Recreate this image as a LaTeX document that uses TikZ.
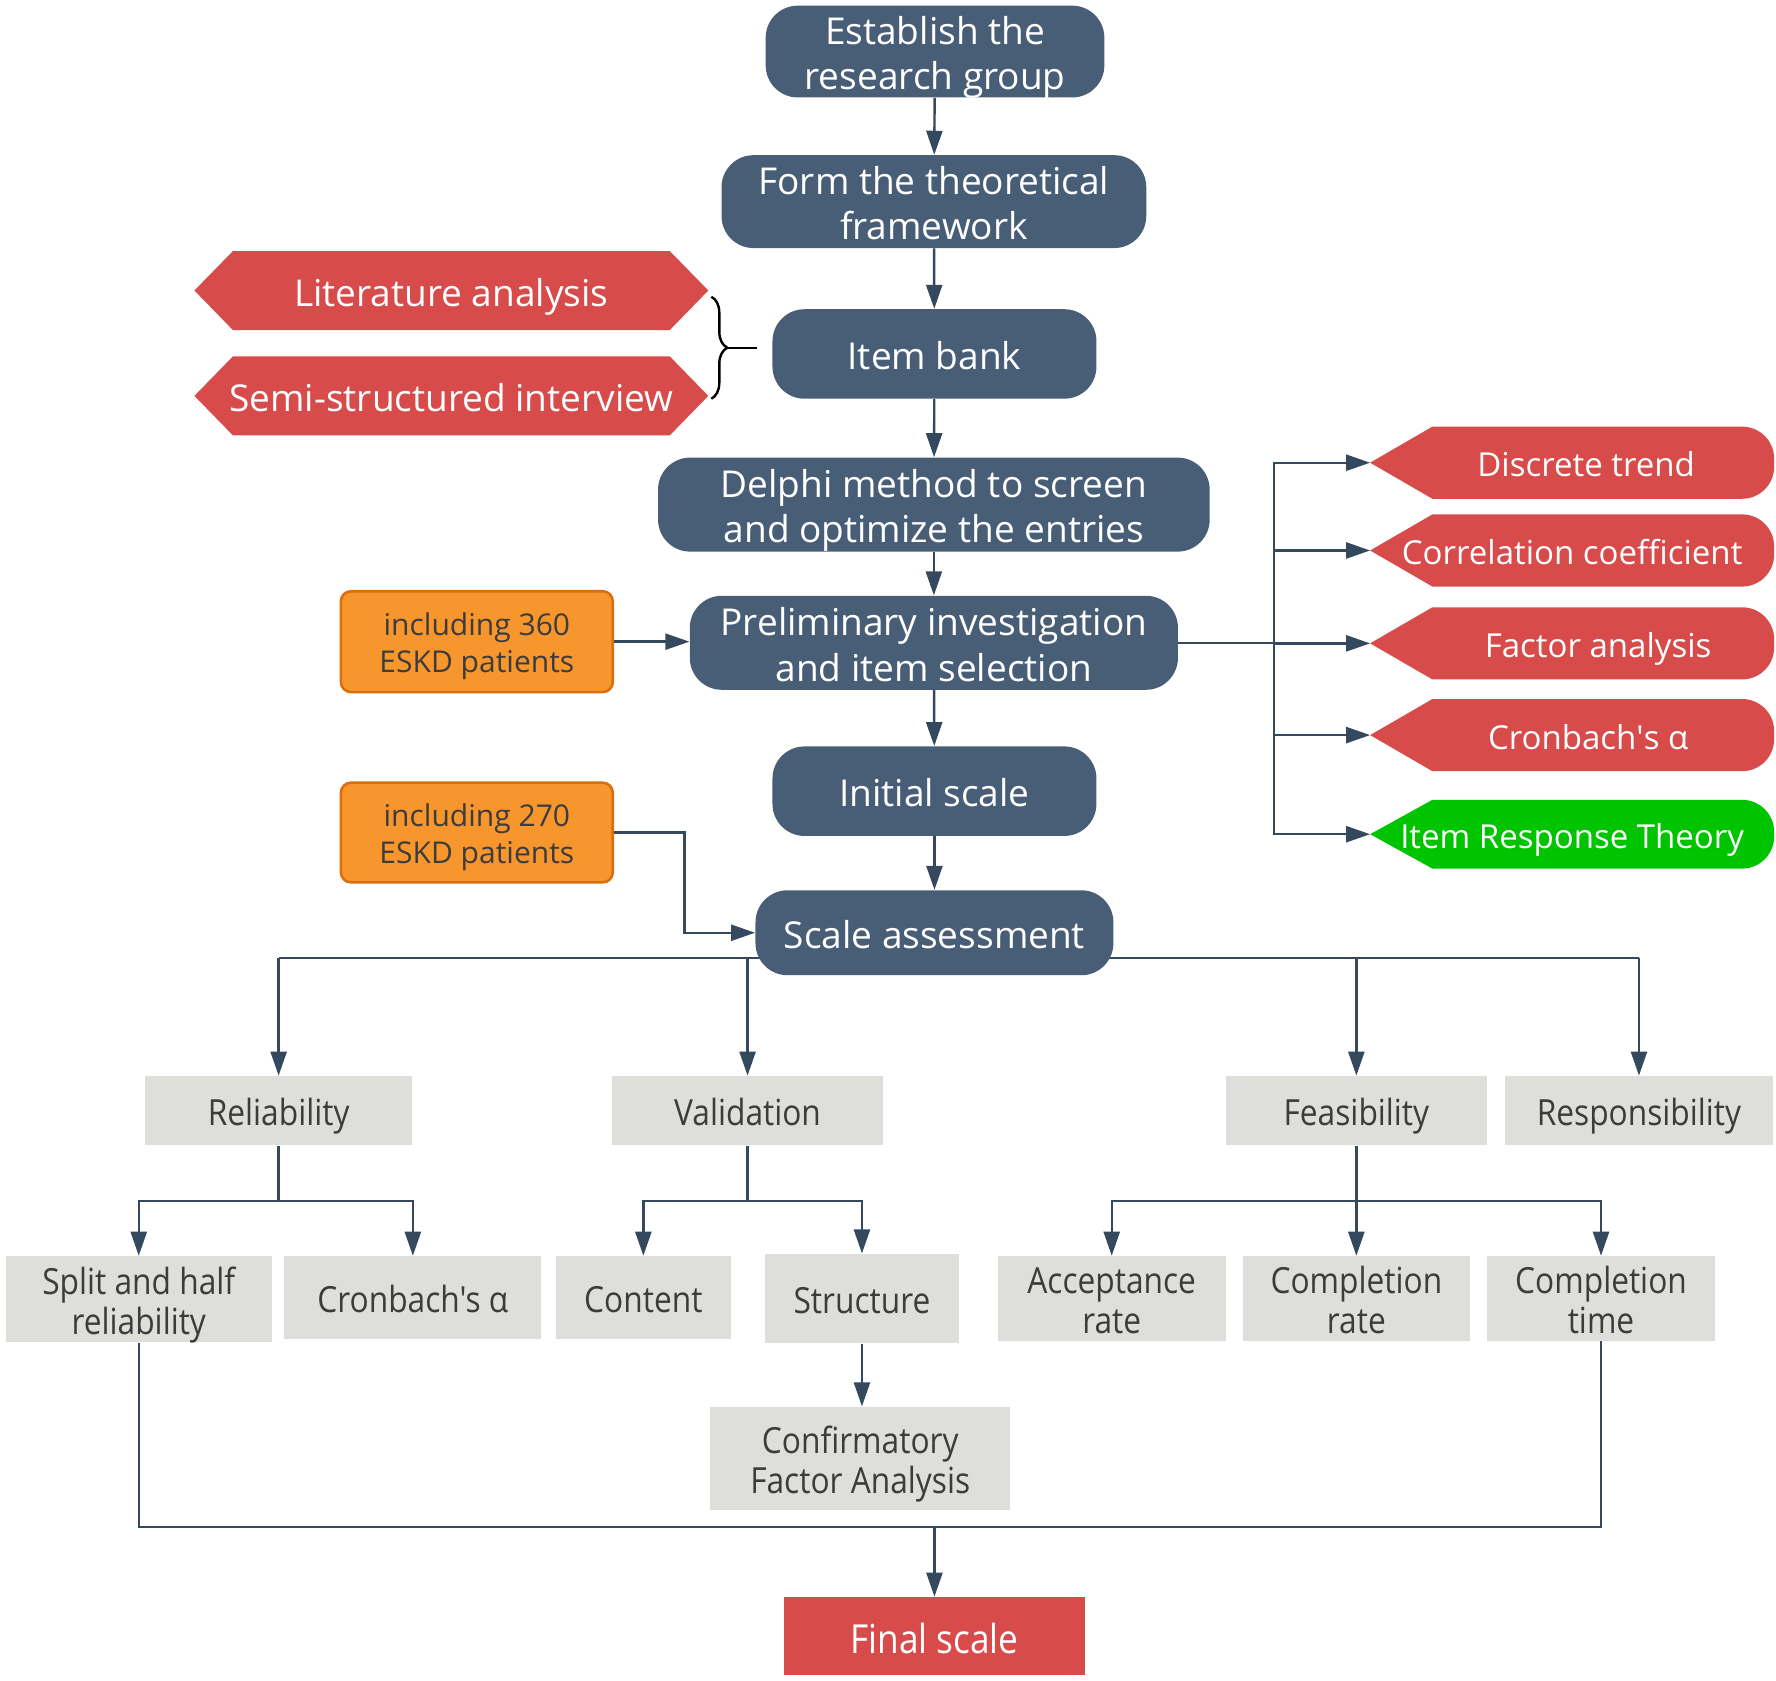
\documentclass[tikz,border=0pt]{standalone}
\usepackage{fontspec}
\setmainfont{Open Sans}
\newfontfamily\plainf{Open Sans}
\newfontfamily\narrowf[FakeStretch=0.88]{Open Sans}
\newcommand\mystrut{\rule[-0.25em]{0pt}{1.35em}}
\usetikzlibrary{arrows.meta,calc,backgrounds,decorations.pathreplacing}
\definecolor{blueN}{HTML}{485D76}
\definecolor{redN}{HTML}{D74B4B}
\definecolor{greenN}{HTML}{00C400}
\definecolor{orangeF}{HTML}{F8962E}
\definecolor{orangeD}{HTML}{D9700D}
\definecolor{grayN}{HTML}{DEDEDA}
\definecolor{lineC}{HTML}{34495E}
\definecolor{txtC}{HTML}{3C3C3C}
\begin{document}
\begin{tikzpicture}[x=0.566pt,y=-0.566pt,
  sz/.style 2 args={minimum width=#1*0.566pt, minimum height=#2*0.566pt},
  struts/.style={execute at begin node=\mystrut, execute at end node=\mystrut},
  bluen/.style={struts, text=white, font=\fontsize{18.5}{22.5}\selectfont, align=center, inner sep=0pt, fill=blueN, rounded corners=16pt},
  blue2/.style={bluen, text height=40pt, text depth=1.8pt},
  tagn/.style={struts, text=white, align=center, inner sep=0pt},
  lefttag/.style={tagn, font=\fontsize{18.5}{22.5}\selectfont},
  righttag/.style={tagn, font=\fontsize{16.5}{20}\selectfont},
  orn/.style={struts, fill=orangeF, draw=orangeD, line width=1.3pt, rounded corners=5pt, text=txtC, font=\fontsize{15}{18.5}\selectfont, align=center, inner sep=0pt, text height=33pt, text depth=1.75pt},
  grayn/.style={struts, fill=grayN, text=txtC, font=\narrowf\fontsize{18}{20}\selectfont, align=center, inner sep=0pt},
  gray2/.style={grayn, text height=37pt, text depth=1.7pt},
  finaln/.style={struts, fill=redN, text=white, font=\narrowf\fontsize{20}{23}\selectfont, align=center, inner sep=0pt},
  line/.style={draw=lineC, line width=1.2pt},
  arr/.style={line, -{Triangle[length=12pt,width=8pt]}}
]
\useasboundingbox (0,0) rectangle (1568,1484);

% main column
\node[blue2, sz={299}{81}] (est) at (825.5,45.5) {Establish the\\research group};
\node[blue2, sz={375}{82}] (form) at (824.5,178) {Form the theoretical\\framework};
\node[bluen, sz={286}{79}] (item) at (825,312.5) {Item bank};
\node[blue2, sz={487}{83}] (delphi) at (824.5,445.5) {Delphi method to screen\\and optimize the entries};
\node[blue2, sz={431}{83}] (prelim) at (824.5,567.5) {Preliminary investigation\\and item selection};
\node[bluen, sz={286}{79}] (init) at (825,698.5) {Initial scale};
\node[bluen, sz={316}{75}] (scale) at (825,823.5) {Scale assessment};

% left tags
\node[lefttag, sz={453}{69}] (lit) at (398.5,256.5) {Literature analysis};
\node[lefttag, sz={453}{69}] (semi) at (398.5,349.5) {Semi-structured interview};

% right tags
\node[righttag, sz={356}{63}] (dt) at (1388,408.5) {\hspace{14pt}Discrete trend};
\node[righttag, sz={356}{63}] (cc) at (1388,486) {Correlation coefficient};
\node[righttag, sz={356}{63}] (fa) at (1388,568) {\hspace{26pt}Factor analysis};
\node[righttag, sz={356}{63}] (ca) at (1388,649) {\hspace{16pt}Cronbach{\plainf '}s α};
\node[righttag, sz={356}{60}] (irt) at (1388,736.5) {Item Response Theory};

% orange boxes
\node[orn, sz={240}{89}] (o1) at (421,566.5) {including 360\\ESKD patients};
\node[orn, sz={240}{88}] (o2) at (421,735) {including 270\\ESKD patients};

% gray boxes
\node[grayn, sz={236}{61}] (rel) at (246,980.5) {Reliability};
\node[grayn, sz={240}{61}] (val) at (660,980.5) {Validation};
\node[grayn, sz={231}{61}] (fea) at (1197.5,980.5) {Feasibility};
\node[grayn, sz={236}{61}] (res) at (1447,980.5) {Responsibility};
\node[gray2, sz={235}{76}] (split) at (122.5,1147) {Split and half\\reliability};
\node[grayn, sz={227}{73}] (cron) at (364.5,1145.5) {Cronbach's α};
\node[grayn, sz={154}{73}] (cont) at (568,1145.5) {Content};
\node[grayn, sz={172}{79}] (stru) at (761,1146.5) {Structure};
\node[gray2, sz={201}{75}] (acc) at (981.5,1146.5) {Acceptance\\rate};
\node[gray2, sz={201}{75}] (crate) at (1197.5,1146.5) {Completion\\rate};
\node[gray2, sz={201}{75}] (ctime) at (1413.5,1146.5) {Completion\\time};
\node[gray2, sz={265}{91}] (cfa) at (759.5,1287.5) {Confirmatory\\Factor Analysis};
\node[finaln, sz={266}{69}] (final) at (825,1444.5) {Final scale};

\begin{pgfonlayer}{background}
  % left hexagons
  \foreach \n in {lit,semi}{
    \fill[redN] (\n.west) -- ($(\n.north west)+(34,0)$) -- ($(\n.north east)+(-34,0)$) -- (\n.east)
      -- ($(\n.south east)+(-34,0)$) -- ($(\n.south west)+(34,0)$) -- cycle;
  }
  % right pointed tags
  \foreach \n/\c in {dt/redN,cc/redN,fa/redN,ca/redN,irt/greenN}{
    \fill[\c] (\n.west) -- ($(\n.north west)+(55,0)$) [rounded corners=16pt] -- (\n.north east)
      -- (\n.south east) [sharp corners] -- ($(\n.south west)+(55,0)$) -- cycle;
  }
  % scale assessment bus
  \coordinate (sbus) at (825,846);
  \draw[line] (rel.north |- sbus) -- (res.north |- sbus);
\end{pgfonlayer}

% main column arrows
\draw[arr] (est) -- (form);
\draw[arr] (form) -- (item);
\draw[arr] (item) -- (delphi);
\draw[arr] (delphi) -- (prelim);
\draw[arr] (prelim) -- (init);
\draw[arr] (init) -- (scale);

% brace
\draw[black, line width=1.2pt, decorate, decoration={brace, amplitude=8pt}] (628,262) -- (628,352);
\coordinate (bt) at (668,307);
\draw[black, line width=1.2pt] (642,307) -- (bt);

% orange connectors
\draw[arr] (o1.east) -- (o1.east -| prelim.west);
\draw[arr] (o2.east) -- ($(o2.east)+(62,0)$) |- (scale.west);

% right bus
\coordinate (rbus) at (1125,567.5);
\draw[line] (prelim.east) -- (rbus);
\foreach \n in {dt,cc,fa,ca,irt}{
  \draw[arr] (rbus) |- (\n.west);
}

% scale assessment to first level
\foreach \n in {rel,val,fea,res}{
  \draw[arr] (\n.north |- sbus) -- (\n.north);
}

% second level
\draw[arr] (rel.south) -- ++(0,49) -| (split.north);
\draw[arr] (rel.south) -- ++(0,49) -| (cron.north);
\draw[arr] (val.south) -- ++(0,49) -| (cont.north);
\draw[arr] (val.south) -- ++(0,49) -| (stru.north);
\draw[arr] (fea.south) -- ++(0,49) -| (acc.north);
\draw[arr] (fea.south) -- (crate.north);
\draw[arr] (fea.south) -- ++(0,49) -| (ctime.north);
\draw[arr] (stru.south) -- (stru.south |- cfa.north);

% bottom bus
\coordinate (fb) at (825,1348);
\draw[line] (split.south) |- (fb) -| (ctime.south);
\draw[arr] (fb) -- (final.north);
\end{tikzpicture}
\end{document}
